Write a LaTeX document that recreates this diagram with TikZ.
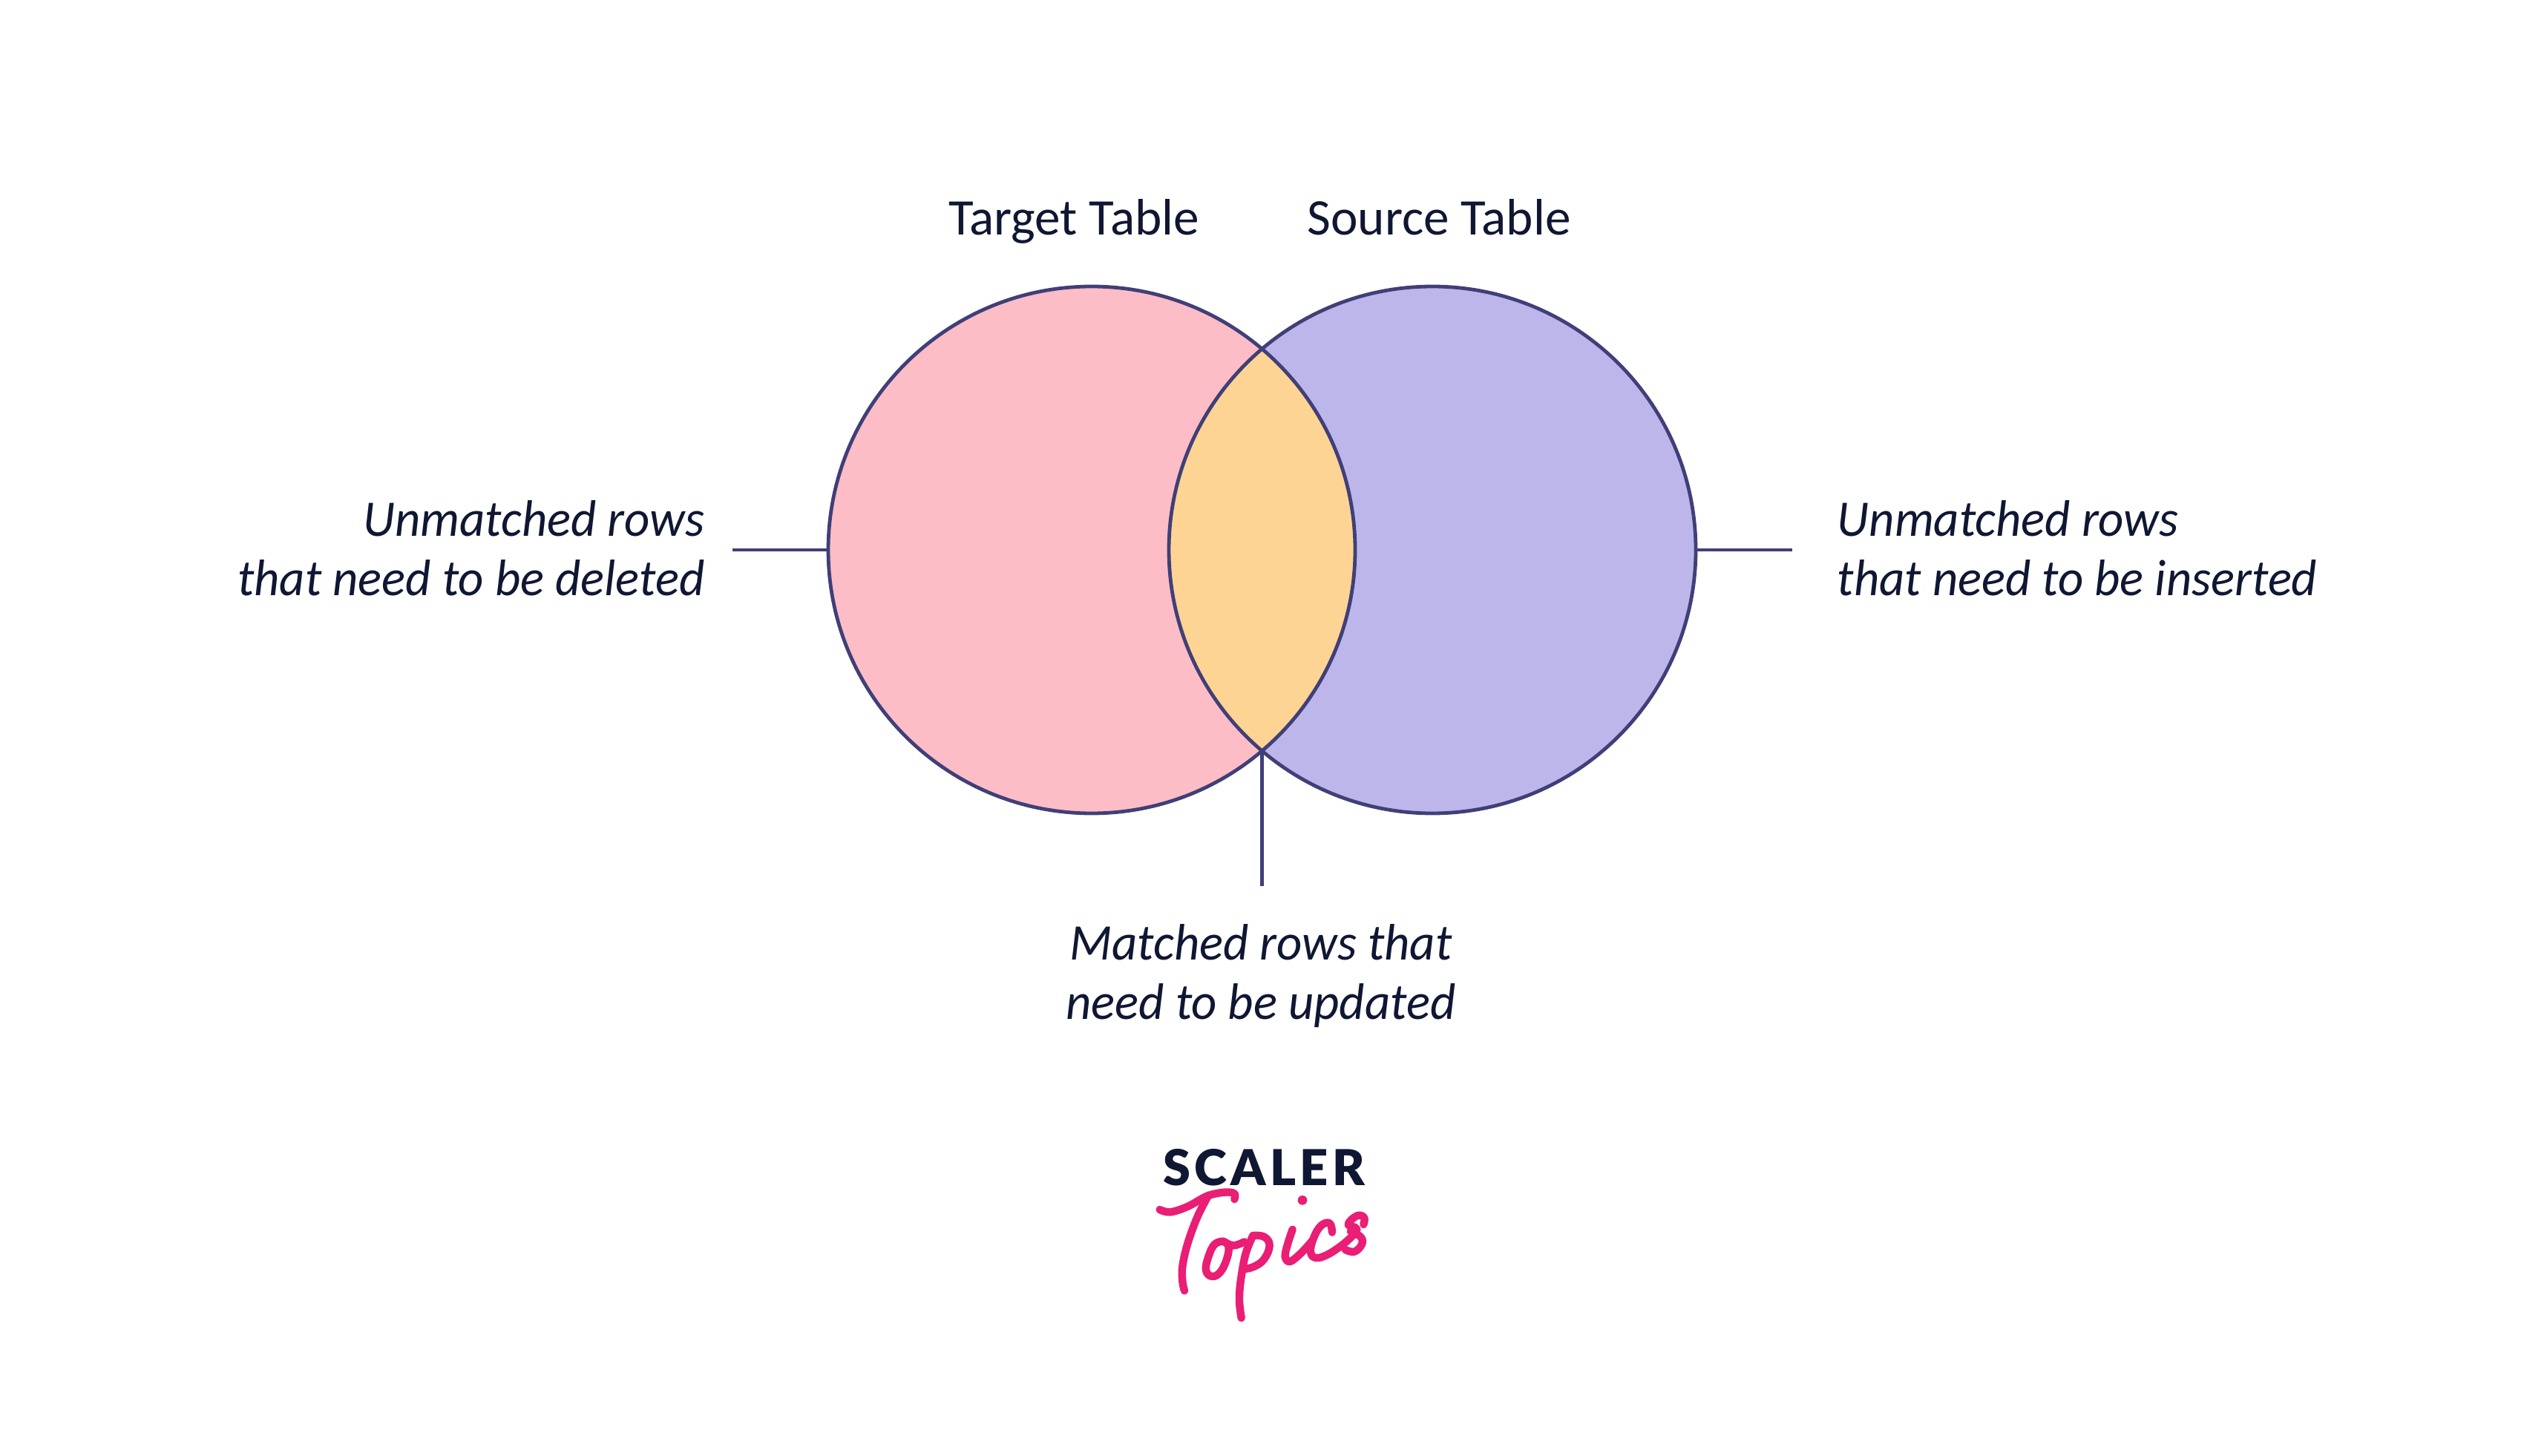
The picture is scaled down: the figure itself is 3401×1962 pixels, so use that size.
\documentclass[tikz,border=0pt]{standalone}
\usepackage{fontspec}
\setmainfont{Carlito}
\newfontfamily\narrowit[FakeStretch=0.965]{Carlito Italic}
\newfontfamily\logofont[LetterSpace=8,BoldFont={Lato Black}]{Lato}
\definecolor{inkc}{HTML}{0F1733}
\definecolor{linec}{HTML}{403F78}
\definecolor{pinkc}{HTML}{FCBDC6}
\definecolor{purpc}{HTML}{BCB6EB}
\definecolor{orac}{HTML}{FDD493}
\definecolor{magc}{HTML}{E91E74}
\begin{document}
\begin{tikzpicture}[x=0.24pt,y=-0.24pt,
  venn/.style={circle,inner sep=0pt,minimum size=170.4pt},
  edge/.style={draw=linec,line width=1.15pt},
  lbl/.style={inner sep=0pt,text=inkc,font=\fontsize{16.6pt}{19.2pt}\selectfont},
  ital/.style={lbl,font=\fontsize{16.6pt}{19.2pt}\narrowit},
  script/.style={draw=magc,line width=2.5pt,line cap=round,line join=round}]
\useasboundingbox (0,0) rectangle (3401,1962);
\fill[white] (0,0) rectangle (3401,1962);
\node[venn,fill=pinkc] (tgt) at (1471,741) {};
\node[venn,fill=purpc] (src) at (1930,741) {};
\begin{scope}
  \clip (1471,741) circle[radius=85.2pt];
  \fill[orac] (1930,741) circle[radius=85.2pt];
\end{scope}
\node[venn,edge] at (tgt) {};
\node[venn,edge] at (src) {};
\coordinate (top) at (1700.5,1012);
\coordinate (lend) at (987,741);
\coordinate (rend) at (2415,741);
\coordinate (bend) at (1700.5,1194);
\draw[edge] (tgt.west) -- (lend);
\draw[edge] (src.east) -- (rend);
\draw[edge] (top) -- (bend);
\node[lbl,anchor=base] (tt) at (1447,317) {Target Table};
\node[lbl,anchor=base] (st) at (1939,317) {Source Table};
\node[ital,anchor=base east] (a1) at (950,722) {Unmatched rows};
\node[ital,anchor=base east] (a2) at (950,802) {that need to be deleted};
\node[ital,anchor=base west] (b1) at (2475,722) {Unmatched rows};
\node[ital,anchor=base west] (b2) at (2475,802) {that need to be inserted};
\node[ital,anchor=base] (c1) at (1699,1293) {Matched rows that};
\node[ital,anchor=base] (c2) at (1699,1373) {need to be updated};
\node[inner sep=0pt,text=inkc,anchor=base,font=\fontsize{16pt}{16pt}\logofont\bfseries] (logo) at (1703,1597) {SCALER};
\begin{scope}[shift={(1500,1500)},x=0.08pt,y=-0.08pt]
\draw[script] plot[smooth,tension=0.6] coordinates {(188,390) (230,400) (300,378) (380,335) (450,320) (490,325) (490,348)};
\draw[script] plot[smooth,tension=0.6] coordinates {(385,332) (340,420) (300,530) (280,620) (280,680) (288,718)};
\draw[script] plot[smooth,tension=0.7] coordinates {(445,518) (410,530) (385,580) (375,635) (400,660) (435,640) (462,580) (465,535) (445,518) (485,535) (530,520)};
\draw[script] plot[smooth,tension=0.6] coordinates {(565,495) (535,570) (515,680) (510,760) (518,828)};
\draw[script] plot[smooth,tension=0.7] coordinates {(565,495) (610,500) (632,535) (610,590) (570,620) (530,630)};
\draw[script] plot[smooth,tension=0.6] coordinates {(725,470) (705,530) (695,580) (715,600) (760,565) (805,515)};
\fill[magc] (765,352) circle[radius=19];
\draw[script] plot[smooth,tension=0.7] coordinates {(885,482) (875,445) (840,455) (810,505) (798,560) (820,585) (870,570) (930,530)};
\draw[script] plot[smooth,tension=0.7] coordinates {(930,530) (985,472) (950,450) (985,415) (1014,422) (1012,450)};
\draw[script] plot[smooth,tension=0.7] coordinates {(960,478) (1000,500) (1005,530) (975,560) (938,552)};
\end{scope}
\end{tikzpicture}
\end{document}
